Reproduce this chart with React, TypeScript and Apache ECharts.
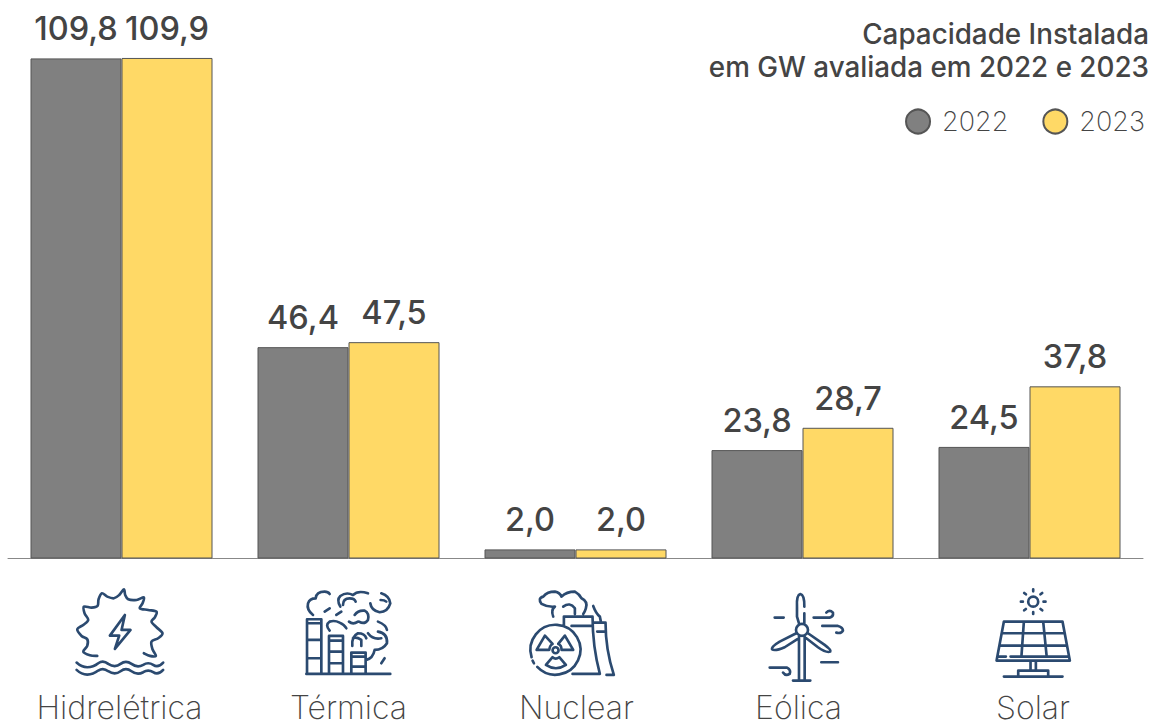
import React, { useEffect, useRef } from "react";
import * as echarts from "echarts";

const categories = ["Hidrelétrica", "Térmica", "Nuclear", "Eólica", "Solar"];
const values2022 = [109.8, 46.4, 2.0, 23.8, 24.5];
const values2023 = [109.9, 47.5, 2.0, 28.7, 37.8];
const titleText = "Capacidade Instalada\nem GW avaliada em 2022 e 2023";

const FONT = "Inter, 'Noto Sans', sans-serif";
const INK = "#444444";
const NAVY = "#2b4a70";

const gearOutline: [number, number][] = [
  [292, 258], [270, 256], [250, 245], [262, 228], [262, 208], [245, 198], [232, 178], [250, 165], [265, 150],
  [254, 130], [252, 110], [275, 113], [293, 108], [296, 88], [306, 70], [322, 80], [342, 85], [358, 75], [372, 58],
  [376, 75], [385, 88], [410, 90], [432, 82], [428, 100], [420, 115], [445, 120], [470, 125], [465, 142], [455, 155],
  [470, 172], [488, 190], [475, 205], [455, 215], [458, 238], [468, 258], [450, 258], [432, 250],
];

function smoothPath(pts: [number, number][]) {
  let d = `M${pts[0][0]} ${pts[0][1]}`;
  for (let i = 0; i < pts.length - 1; i++) {
    const p0 = pts[Math.max(i - 1, 0)];
    const p1 = pts[i];
    const p2 = pts[i + 1];
    const p3 = pts[Math.min(i + 2, pts.length - 1)];
    const c1x = p1[0] + (p2[0] - p0[0]) / 6;
    const c1y = p1[1] + (p2[1] - p0[1]) / 6;
    const c2x = p2[0] - (p3[0] - p1[0]) / 6;
    const c2y = p2[1] - (p3[1] - p1[1]) / 6;
    d += ` C${c1x} ${c1y} ${c2x} ${c2y} ${p2[0]} ${p2[1]}`;
  }
  return d + " ";
}

const iconHydro =
  smoothPath(gearOutline) +
  "M230 278 Q245 292 262 292 Q280 292 295 280 Q310 270 325 282 Q345 295 362 282 Q378 270 395 282 Q412 295 430 285 Q445 275 460 285 Q475 295 490 278 " +
  "M230 300 Q245 314 262 314 Q280 314 295 302 Q310 292 325 304 Q345 317 362 304 Q378 292 395 304 Q412 317 430 307 Q445 297 460 307 Q475 317 490 300 " +
  "M375 135 L330 197 H358 L345 237 L392 180 H365 Z";

const iconThermal =
  "M922 312 V148 H965 V312 M922 160 H965 M922 210 H965 M922 265 H965 " +
  "M988 312 V198 H1030 V312 M988 212 H1030 M988 245 H1030 M988 280 H1030 " +
  "M1055 312 V248 H1098 V312 M1055 260 H1098 M1055 290 H1098 M920 312 H1172 " +
  "M940 135 Q920 120 925 100 Q930 85 948 85 Q950 65 975 65 Q985 65 990 72 " +
  "M975 125 L990 115 M1010 135 L1025 125 " +
  "M1022 110 Q1010 90 1022 78 Q1040 65 1060 75 Q1075 60 1105 70 " +
  "M1030 105 Q1030 85 1050 85 Q1065 85 1068 95 " +
  "M1145 70 Q1170 78 1172 100 Q1165 125 1140 127 Q1115 122 1112 100 M1143 90 Q1155 90 1160 95 " +
  "M1065 135 Q1075 120 1095 122 Q1110 130 1105 150 Q1095 165 1078 155 M1048 155 Q1060 165 1075 155 " +
  "M1135 155 Q1160 165 1162 180 M990 182 Q975 165 990 155 Q1005 150 1020 158 Q1035 165 1040 175 " +
  "M1058 228 Q1055 200 1075 190 Q1095 190 1100 205 M1060 205 Q1070 200 1085 210 V228 " +
  "M1105 190 Q1120 210 1145 205 M1135 185 Q1165 190 1162 220 Q1150 240 1125 240 Q1120 265 1100 270 M1145 280 L1155 265";

const iconNuclear =
  "M232 291 A75 75 0 1 0 215 262 M218 272 L222 280 " +
  "M255 197 L230 240 H268 Q270 225 278 222 Z M315 197 L340 240 H305 Q305 225 295 222 Z " +
  "M258 285 L278 262 Q287 270 298 262 L318 285 Q288 305 258 285 Z " +
  "M296 241 A9 9 0 1 1 278 241 A9 9 0 1 1 296 241 Z " +
  "M312 165 V140 H398 Q398 230 420 312 H338 M335 168 H395 " +
  "M400 158 H437 Q437 240 462 315 H440 M412 185 H435 " +
  "M280 140 Q272 120 285 110 Q262 112 245 102 Q232 85 250 80 Q262 65 285 65 Q300 68 305 80 Q320 65 345 65 Q358 72 365 85 Q385 95 378 115 Q375 125 370 132 " +
  "M310 110 Q330 95 345 115 V132 M400 108 Q408 130 420 140 L423 155";

const iconWind =
  "M1045 180 A18 18 0 1 1 1009 180 A18 18 0 1 1 1045 180 Z " +
  "M1012 110 Q1010 75 1022 72 Q1035 75 1034 110 M1034 130 V160 M1012 110 V140 L1018 160 " +
  "M1010 190 L960 215 Q935 230 937 238 Q945 245 975 232 L1012 208 " +
  "M1045 190 L1095 225 Q1115 240 1112 245 Q1100 250 1075 232 L1040 205 " +
  "M1018 200 V330 M1035 200 V330 M1000 332 H1052 M945 143 H972 " +
  "M1062 143 H1110 Q1122 140 1120 128 Q1110 118 1100 128 " +
  "M1088 168 H1135 Q1150 172 1150 182 Q1145 192 1130 188 " +
  "M1085 277 H1135 M930 293 H982 Q995 300 990 312 Q978 320 970 308";

const iconSolar =
  "M415 95 A15 15 0 1 1 385 95 A15 15 0 1 1 415 95 Z " +
  "M400 58 V64 M400 126 V132 M363 95 H369 M431 95 H437 M373 69 L378 73 M427 69 L422 73 M373 121 L378 117 M427 121 L422 117 " +
  "M312 155 H488 L510 272 H290 Z M295 260 H318 M332 260 H505 " +
  "M372 155 L365 255 M430 155 L440 255 M305 190 H495 M300 227 H500 " +
  "M392 272 V302 M408 272 V302 M355 318 V302 H445 V318 M312 320 H488";

const icons: [string, string, number][] = [
  ["iconHydro", iconHydro, 0],
  ["iconThermal", iconThermal, 0],
  ["iconNuclear", iconNuclear, 460],
  ["iconWind", iconWind, 460],
  ["iconSolar", iconSolar, 900],
];
icons.forEach(([name, d]) => echarts.graphic.registerShape(name, echarts.graphic.extendPath(d as any, {}) as any));

const label = (color = INK) => ({
  show: true,
  position: "top" as const,
  distance: 13,
  color,
  fontFamily: FONT,
  fontSize: 32.5,
  fontWeight: 500,
  formatter: (p: any) => Number(p.value).toFixed(1).replace(".", ","),
});

export default function App() {
  const ref = useRef<HTMLDivElement>(null);
  useEffect(() => {
    document.body.style.margin = "0";
    const chart = echarts.init(ref.current!, undefined, { renderer: "svg" });
    chart.setOption({
      animation: false,
      backgroundColor: "#ffffff",
      title: {
        text: titleText,
        left: 1144,
        top: 12,
        textAlign: "right",
        textStyle: { fontFamily: FONT, fontSize: 27.8, fontWeight: 500, lineHeight: 33.5, color: INK },
      },
      legend: {
        data: ["2022", "2023"],
        icon: "circle",
        right: 0,
        top: 103,
        width: 300,
        itemWidth: 24,
        itemHeight: 24,
        itemGap: 34,
        textStyle: { fontFamily: FONT, fontSize: 27, fontWeight: 200, color: INK, padding: [0, 0, 0, 7] },
      },
      grid: { left: 8, right: 7, top: 57.5, height: 501, outerBoundsMode: "none" },
      xAxis: {
        type: "category",
        data: [
          { value: categories[0], textStyle: { padding: [0, 4, 0, 0] } },
          { value: categories[1] },
          { value: categories[2], textStyle: { padding: [0, 0, 0, 2] } },
          { value: categories[3], textStyle: { padding: [0, 8, 0, 0] } },
          { value: categories[4], textStyle: { padding: [0, 0, 0, 7] } },
        ],
        axisTick: { show: false },
        axisLine: { lineStyle: { color: "#888888", width: 1 } },
        axisLabel: { margin: 133, fontFamily: FONT, fontSize: 32, fontWeight: 200, color: INK, interval: 0 },
      },
      yAxis: { type: "value", min: 0, max: 110, show: false },
      series: [
        {
          name: "2022",
          type: "bar",
          data: values2022,
          barWidth: 91,
          barGap: "0%",
          itemStyle: { color: "#808080", borderColor: "#555555", borderWidth: 1 },
          label: label(),
        },
        {
          name: "2023",
          type: "bar",
          data: values2023,
          barWidth: 91,
          barGap: "0%",
          itemStyle: { color: "#FFD966", borderColor: "#555555", borderWidth: 1 },
          label: label(),
        },
      ],
      graphic: icons.map(([name, , ox]) => ({
        type: name,
        x: ox,
        y: 570,
        scaleX: 1 / 3,
        scaleY: 1 / 3,
        silent: true,
        style: { fill: "none", stroke: NAVY, lineWidth: 8, lineCap: "round", lineJoin: "round" },
      })),
    });
    return () => chart.dispose();
  }, []);
  return <div ref={ref} style={{ width: 1150, height: 722 }} />;
}
